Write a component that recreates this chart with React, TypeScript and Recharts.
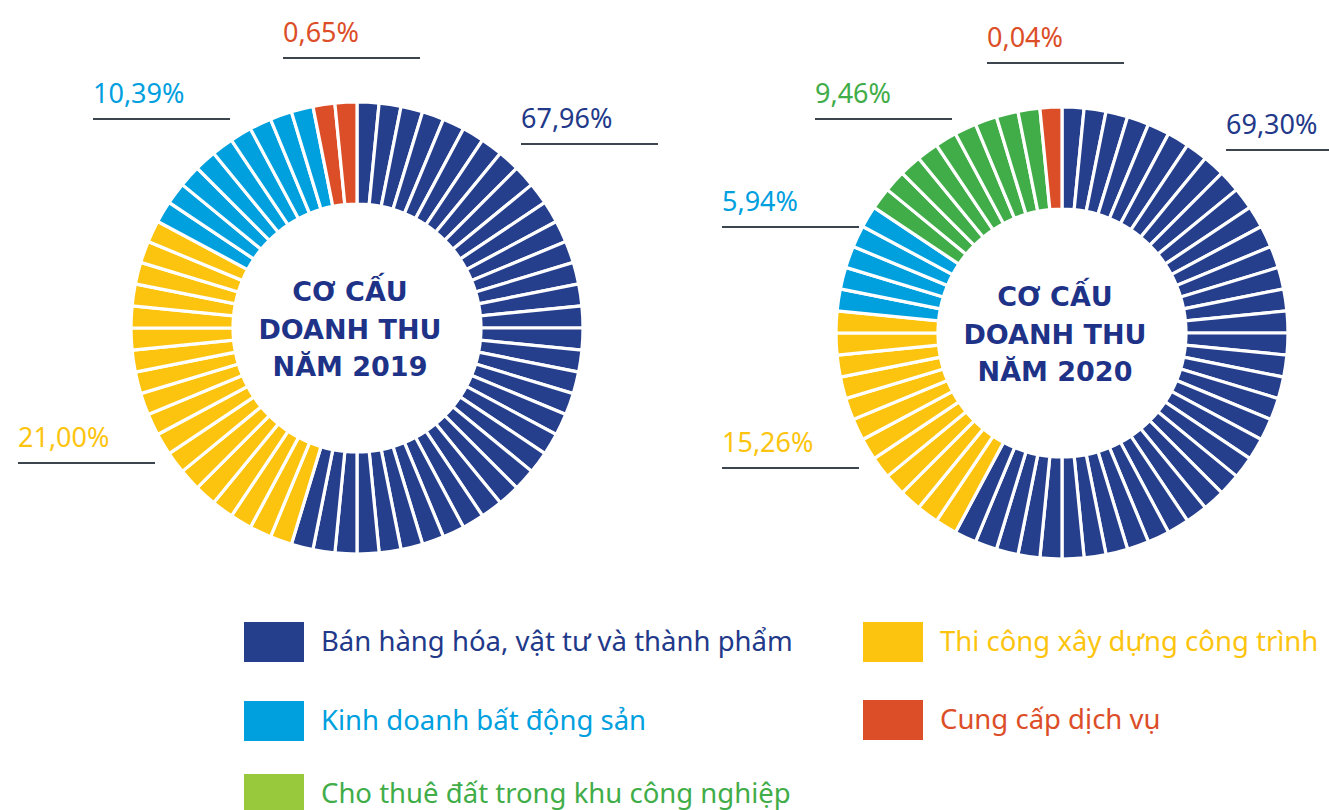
import * as React from 'react';
import { Cell, Pie, PieChart } from 'recharts';

// Revenue structure, 2019 vs 2020. The ring is drawn as 64 equal ticks,
// the tick counts per category are read off the picture (the artwork is
// not strictly proportional to the printed shares).
const CATEGORIES = [
  'Bán hàng hóa, vật tư và thành phẩm',
  'Thi công xây dựng công trình',
  'Kinh doanh bất động sản',
  'Cho thuê đất trong khu công nghiệp',
  'Cung cấp dịch vụ',
];
const SHARE_2019 = [67.96, 21.0, 10.39, 0, 0.65];
const SHARE_2020 = [69.3, 15.26, 5.94, 9.46, 0.04];
const TICKS_2019 = [35, 18, 9, 0, 2];
const TICKS_2020 = [37, 12, 5, 9, 1];
const CENTER_2019 = ['CƠ CẤU', 'DOANH THU', 'NĂM 2019'];
const CENTER_2020 = ['CƠ CẤU', 'DOANH THU', 'NĂM 2020'];

// colours
const NAVY = '#263F8D';
const YELLOW = '#FCC40F';
const SKY = '#00A0DF';
const GREEN = '#41AD49';
const RED = '#DC4E28';
const LIME = '#98C93C';
const TITLE = '#1E3388';
const RULE = '#3C444D';

const SLICE_FILL = [NAVY, YELLOW, SKY, GREEN, RED];
const TEXT_FILL = ['#22398A', YELLOW, SKY, GREEN, RED];
const SWATCH_FILL = [NAVY, YELLOW, SKY, LIME, RED];

const W = 1329;
const H = 810;
const FONT = "'Noto Sans', sans-serif";

// label anchors: [x, baseline] per category, null = no label
const LABELS_2019: ([number, number] | null)[] = [[521, 128], [18, 447], [93, 103], null, [283, 42]];
const LABELS_2020: ([number, number] | null)[] = [[1226, 134], [722, 452], [722, 211], [815, 103], [987, 47]];

// legend layout: [x, y] of swatch per category
const LEGEND_POS: [number, number][] = [[244, 622], [863, 622], [244, 701], [244, 774], [863, 700]];

function ticks(counts: number[]) {
  const out: { cat: number; value: number }[] = [];
  counts.forEach((n, cat) => {
    for (let i = 0; i < n; i++) out.push({ cat, value: 1 });
  });
  return out;
}

const fmt = (v: number) => v.toFixed(2).replace('.', ',') + '%';

function Ring({ data, cx, cy }: { data: { cat: number; value: number }[]; cx: number; cy: number }) {
  return (
    <Pie
      data={data}
      dataKey="value"
      cx={cx}
      cy={cy}
      innerRadius={124}
      outerRadius={226}
      startAngle={90}
      endAngle={-270}
      stroke="#FFFFFF"
      strokeWidth={3.2}
      isAnimationActive={false}
    >
      {data.map((d, i) => (
        <Cell key={i} fill={SLICE_FILL[d.cat]} />
      ))}
    </Pie>
  );
}

function Labels({ shares, pos }: { shares: number[]; pos: ([number, number] | null)[] }) {
  return (
    <>
      {pos.map((p, i) =>
        p ? (
          <g key={i}>
            <text x={p[0]} y={p[1]} fontFamily={FONT} fontSize={27} fill={TEXT_FILL[i]}>
              {fmt(shares[i])}
            </text>
            <line x1={p[0]} x2={p[0] + 137} y1={p[1] + 16} y2={p[1] + 16} stroke={RULE} strokeWidth={2} />
          </g>
        ) : null,
      )}
    </>
  );
}

function Title({ lines, x, y }: { lines: string[]; x: number; y: number }) {
  return (
    <text
      x={x}
      fontFamily="'DejaVu Sans', sans-serif"
      fontWeight="bold"
      fontSize={27}
      fill={TITLE}
      textAnchor="middle"
    >
      {lines.map((l, i) => (
        <tspan key={i} x={x} y={y + i * 37.6}>
          {l}
        </tspan>
      ))}
    </text>
  );
}

export default function App() {
  const d2019 = React.useMemo(() => ticks(TICKS_2019), []);
  const d2020 = React.useMemo(() => ticks(TICKS_2020), []);

  return (
    <div style={{ position: 'absolute', left: 0, top: 0, width: W, height: H, background: '#fff', overflow: 'hidden' }}>
      <PieChart width={W} height={H} margin={{ top: 0, right: 0, bottom: 0, left: 0 }}>
        <Ring data={d2019} cx={357} cy={328} />
        <Ring data={d2020} cx={1062} cy={333} />
      </PieChart>
      <svg width={W} height={H} style={{ position: 'absolute', left: 0, top: 0 }}>
        <Labels shares={SHARE_2019} pos={LABELS_2019} />
        <Labels shares={SHARE_2020} pos={LABELS_2020} />
        <Title lines={CENTER_2019} x={350} y={301} />
        <Title lines={CENTER_2020} x={1055} y={306} />
        {CATEGORIES.map((name, i) => {
          const [x, y] = LEGEND_POS[i];
          return (
            <g key={name}>
              <rect x={x} y={y} width={60} height={40} fill={SWATCH_FILL[i]} />
              <text x={x + 77} y={y + 29} fontFamily={FONT} fontSize={27.5} fill={TEXT_FILL[i]}>
                {name}
              </text>
            </g>
          );
        })}
      </svg>
    </div>
  );
}
